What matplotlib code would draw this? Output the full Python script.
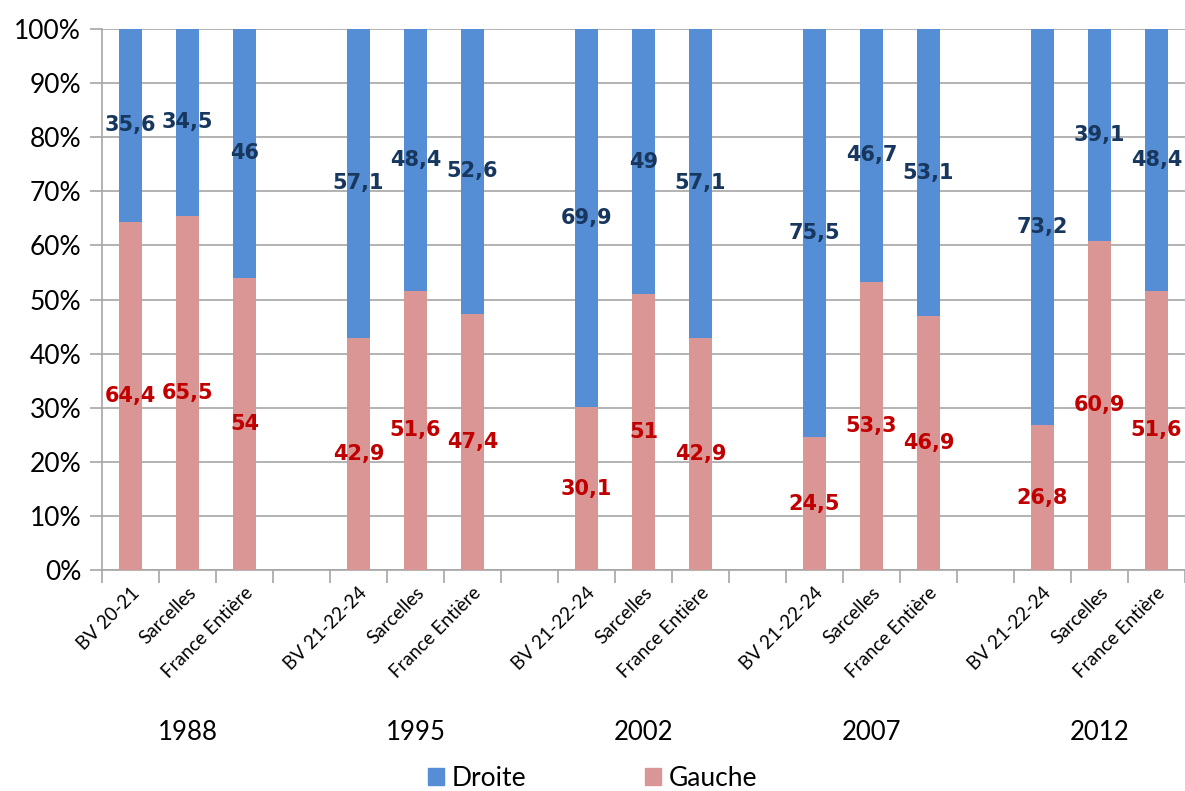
import matplotlib
matplotlib.use("Agg")
import matplotlib.pyplot as plt
from matplotlib.patches import Patch
import numpy as np

years = ["1988", "1995", "2002", "2007", "2012"]
places_1988 = ["BV 20-21", "Sarcelles", "France Entière"]
places = ["BV 21-22-24", "Sarcelles", "France Entière"]
droite = [35.6, 34.5, 46, 57.1, 48.4, 52.6, 69.9, 49, 57.1, 75.5, 46.7, 53.1, 73.2, 39.1, 48.4]
gauche = [64.4, 65.5, 54, 42.9, 51.6, 47.4, 30.1, 51, 42.9, 24.5, 53.3, 46.9, 26.8, 60.9, 51.6]

blue = "#558ED5"
pink = "#D99694"
navy = "#17375E"
red = "#C00000"
grid_col = "#A6A6A6"

# three bars per year, one empty slot between years
xpos = []
for g in range(len(years)):
    xpos += [g * 4 + k for k in range(3)]
xpos = np.array(xpos)
labels = places_1988 + places * 4

fig = plt.figure(figsize=(11.85, 7.91), dpi=100)
ax = fig.add_axes([102 / 1185, 1 - 570 / 791, 1 - 102 / 1185, (570 - 29) / 791])

ax.bar(xpos, gauche, width=0.41, color=pink, zorder=3)
ax.bar(xpos, droite, width=0.41, bottom=gauche, color=blue, zorder=3)

def fmt(v):
    return f"{v:g}".replace(".", ",")

for x, g, d in zip(xpos, gauche, droite):
    ax.text(x, g / 2, fmt(g), ha="center", va="center", color=red,
            fontsize=15, fontweight="bold", family="DejaVu Sans", zorder=4)
    ax.text(x, g + d / 2, fmt(d), ha="center", va="center", color=navy,
            fontsize=15, fontweight="bold", family="DejaVu Sans", zorder=4)

ax.set_xlim(-0.5, (1185 - 102) / 57.4 - 0.5)
ax.set_ylim(0, 100)
ax.set_yticks(np.arange(0, 101, 10))
ax.set_yticklabels([f"{v}%" for v in range(0, 101, 10)], fontsize=19, family="Lato")
ax.yaxis.grid(True, color=grid_col, linewidth=1.2, zorder=0)

ax.set_xticks(xpos)
ax.set_xticklabels(labels, rotation=45, ha="right", va="top", rotation_mode="anchor",
                   fontsize=13.5, family="Lato")
ax.tick_params(axis="x", length=0, pad=10)
ax.set_xticks(np.arange(-0.5, 19, 1), minor=True)
ax.tick_params(axis="x", which="minor", length=9, color=grid_col, width=1.2)
ax.tick_params(axis="y", length=9, color=grid_col, width=1.2, pad=6)

for s in ["top", "right"]:
    ax.spines[s].set_visible(False)
for s in ["left", "bottom"]:
    ax.spines[s].set_color(grid_col)
    ax.spines[s].set_linewidth(1.2)

# year under each group
trans = ax.get_xaxis_transform()
for g, yr in enumerate(years):
    ax.text(g * 4 + 1, -(732 - 570) / 541, yr, transform=trans, ha="center", va="center",
            fontsize=18.5, family="Lato")

handles = [Patch(color=blue, label="Droite"), Patch(color=pink, label="Gauche")]
fig.legend(handles=handles, loc="center", bbox_to_anchor=(0.5, 1 - 778 / 791),
           ncol=2, frameon=False, prop={"family": "Lato", "size": 19},
           handlelength=0.6, handleheight=0.6, columnspacing=4.5, handletextpad=0.3)

fig.savefig("out.png", dpi=100)
